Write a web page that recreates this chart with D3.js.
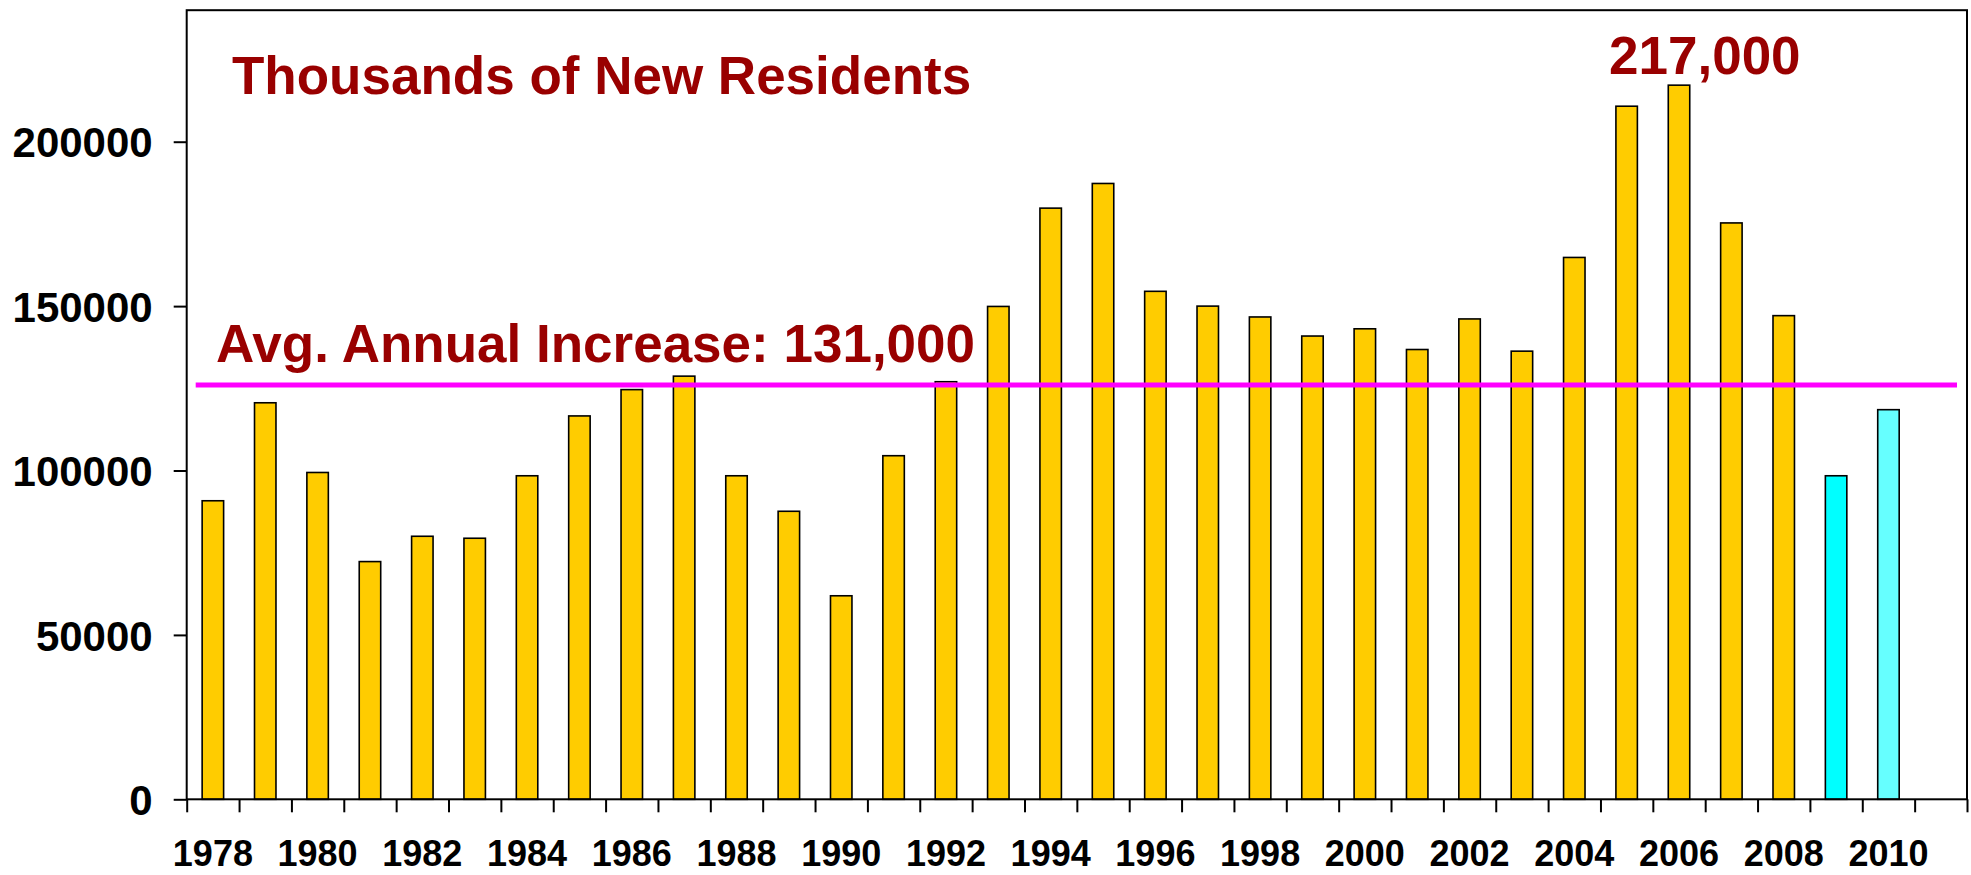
<!DOCTYPE html>
<html>
<head>
<meta charset="utf-8">
<script src="https://cdn.jsdelivr.net/npm/d3@7"></script>
<style>
    html, body { margin: 0; padding: 0; background: #fff; }
    svg { display: block; font-family: "Liberation Sans", Arial, sans-serif; font-weight: bold; }
</style>
</head>
<body>
<div class="svg-container"></div>
<script>
'use strict';

var years = d3.range(1978, 2011);
var residents = [
    90800, 120600, 99400, 72300, 80000, 79400, 98400, 116600, 124600, 128700,
    98400, 87600, 61900, 104500, 127000, 149900, 179800, 187300, 154500, 150000,
    146700, 140900, 143100, 136800, 146100, 136300, 164800, 210800, 217200, 175300,
    147100, 98400, 118500
];
var barColors = { 2009: '#00ffff', 2010: '#66ffff' };
var yTicks = [0, 50000, 100000, 150000, 200000];
var yearLabels = d3.range(1978, 2011, 2);
var averageLine = 126000;

var config = {
    width: 1971,
    height: 875,
    left: 186.7,
    right: 1967,
    top: 10.2,
    bottom: 799.3
};

var chart = {};

function createSVG(){
    chart.svg = d3.select('.svg-container').append('svg')
        .attr('width', config.width)
        .attr('height', config.height);

    chart.svg.append('rect')
        .attr('width', config.width)
        .attr('height', config.height)
        .style('fill', '#fff');
}

function createScales(){
    // one empty slot after 2010
    chart.x = d3.scaleBand()
        .domain(years.concat([2011]))
        .range([config.left, config.right])
        .paddingInner(0.59)
        .paddingOuter(0.295);

    chart.xEdge = d3.scaleLinear()
        .domain([1978, 2012])
        .range([config.left, config.right]);

    chart.y = d3.scaleLinear()
        .domain([0, 240000])
        .range([config.bottom, config.top]);
}

function drawAxes(){
    var svg = chart.svg;

    var yAxis = svg.append('g')
        .attr('transform', 'translate(' + config.left + ',0)')
        .call(d3.axisLeft(chart.y)
            .tickValues(yTicks)
            .tickFormat(d3.format('d'))
            .tickSize(13)
            .tickSizeOuter(0)
            .tickPadding(21));
    yAxis.select('.domain').remove();
    yAxis.selectAll('line').attr('stroke', '#000').attr('stroke-width', 2);
    yAxis.selectAll('text')
        .attr('fill', '#000')
        .style('font-size', '42px')
        .attr('dy', '0.36em');

    var tickAxis = svg.append('g')
        .attr('transform', 'translate(0,' + config.bottom + ')')
        .call(d3.axisBottom(chart.xEdge)
            .tickValues(d3.range(1978, 2013))
            .tickFormat('')
            .tickSize(13)
            .tickSizeOuter(0));
    tickAxis.select('.domain').remove();
    tickAxis.selectAll('line').attr('stroke', '#000').attr('stroke-width', 2);

    var labelAxis = svg.append('g')
        .attr('transform', 'translate(0,' + config.bottom + ')')
        .call(d3.axisBottom(chart.x)
            .tickValues(yearLabels)
            .tickSize(0)
            .tickPadding(41));
    labelAxis.select('.domain').remove();
    labelAxis.selectAll('text')
        .attr('fill', '#000')
        .style('font-size', '36px');
}

function drawBars(){
    chart.svg.append('g')
        .selectAll('rect')
        .data(years)
        .join('rect')
        .attr('x', function(d){ return chart.x(d); })
        .attr('y', function(d, i){ return chart.y(residents[i]); })
        .attr('width', chart.x.bandwidth())
        .attr('height', function(d, i){ return chart.y(0) - chart.y(residents[i]); })
        .style('fill', function(d){ return barColors[d] || '#ffcc00'; })
        .style('stroke', '#000')
        .style('stroke-width', 1.6);
}

function drawFrame(){
    chart.svg.append('rect')
        .attr('x', config.left)
        .attr('y', chart.y(240000))
        .attr('width', config.right - config.left)
        .attr('height', chart.y(0) - chart.y(240000))
        .style('fill', 'none')
        .style('stroke', '#000')
        .style('stroke-width', 2);
}

function drawAnnotations(){
    var svg = chart.svg;

    svg.append('line')
        .attr('x1', chart.xEdge(1978) + 9)
        .attr('x2', chart.xEdge(2012) - 10)
        .attr('y1', chart.y(averageLine))
        .attr('y2', chart.y(averageLine))
        .style('stroke', '#ff00ff')
        .style('stroke-width', 5);

    svg.append('text')
        .attr('x', 232)
        .attr('y', 94)
        .attr('fill', '#990000')
        .style('font-size', '53px')
        .text('Thousands of New Residents');

    svg.append('text')
        .attr('x', 216)
        .attr('y', 362)
        .attr('fill', '#990000')
        .style('font-size', '53px')
        .text('Avg. Annual Increase: 131,000');

    svg.append('text')
        .attr('x', 1609)
        .attr('y', 74)
        .attr('fill', '#990000')
        .style('font-size', '53px')
        .text('217,000');
}

createSVG();
createScales();
drawAxes();
drawBars();
drawFrame();
drawAnnotations();
</script>
</body>
</html>
